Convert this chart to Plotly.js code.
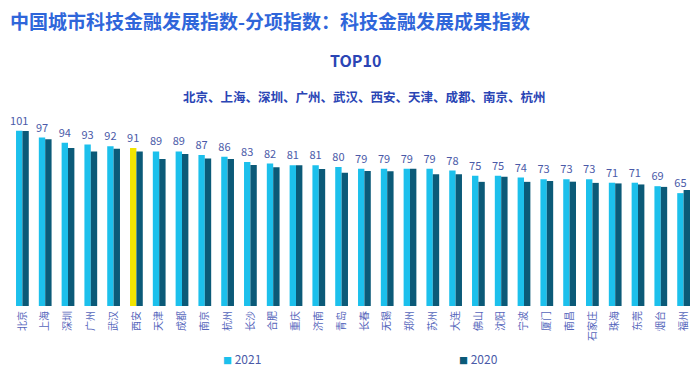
<!DOCTYPE html>
<html>
<head>
<meta charset="utf-8">
<script src="https://cdn.plot.ly/plotly-3.0.1.min.js"></script>
<style>html,body{margin:0;padding:0;background:#fff;}#chart{width:700px;height:370px;}</style>
</head>
<body>
<div id="chart"></div>
<script>
const cities = ["北京","上海","深圳","广州","武汉","西安","天津","成都","南京","杭州","长沙","合肥","重庆","济南","青岛","长春","无锡","郑州","苏州","大连","佛山","沈阳","宁波","厦门","南昌","石家庄","珠海","东莞","烟台","福州"];
const v2021 = [101,97,94,93,92,91,89,89,87,86,83,82,81,81,80,79,79,79,79,78,75,75,74,73,73,73,71,71,69,65];
const v2020 = [100.8,96,91,89,90.6,89,84.7,87.6,85,84.6,81.2,79.9,81,78.9,76.7,77.8,77.6,79,75.9,75.9,71.5,74.4,71.5,72,71.6,70.9,70.6,70,68.6,66.8];
const highlightCity = "西安";

const C21 = "#1cc0ec", C20 = "#0b5a78", CHL = "#f2e500";
const txt = "#4a5aa8";
const cjk = "'Noto Sans CJK SC', 'Noto Sans', sans-serif";

const trace21 = {
  type: "bar", name: "2021", x: cities, y: v2021,
  marker: {color: cities.map(c => c === highlightCity ? CHL : C21)},
  text: v2021.map(String), textposition: "outside", cliponaxis: false, constraintext: "none",
  textfont: {family: cjk, size: 11, color: txt},
  hoverinfo: "x+y", showlegend: false
};
const trace20 = {
  type: "bar", name: "2020", x: cities, y: v2020,
  marker: {color: C20}, hoverinfo: "x+y", showlegend: false
};

const layout = {
  width: 700, height: 370,
  margin: {l: 11, r: 5, t: 115, b: 64},
  paper_bgcolor: "#fff", plot_bgcolor: "#fff",
  barmode: "group", bargap: 0.44, bargroupgap: 0,
  font: {family: cjk, color: txt},
  xaxis: {
    type: "category", range: [-0.5, 29.5], tickangle: -90,
    tickfont: {family: cjk, size: 10, color: "#5566bb"},
    showgrid: false, zeroline: false, showline: false, ticks: "", ticklabelstandoff: 2
  },
  yaxis: {range: [0, 110], visible: false, showgrid: false, zeroline: false},
  annotations: [
    {xref: "paper", yref: "paper", x: -0.004, y: 1.0, xanchor: "left", yanchor: "middle",
     text: "<b>中国城市科技金融发展指数-分项指数：科技金融发展成果指数</b>", showarrow: false,
     font: {family: cjk, size: 19, color: "#2f66da"}, yshift: 95},
    {xref: "paper", yref: "paper", x: 0.503, y: 1.0, xanchor: "center", yanchor: "middle",
     text: "<b>TOP10</b>", showarrow: false,
     font: {family: cjk, size: 16, color: "#2a45b5"}, yshift: 55},
    {xref: "paper", yref: "paper", x: 0.517, y: 1.0, xanchor: "center", yanchor: "middle",
     text: "<b>" + cities.slice(0, 10).join("、") + "</b>", showarrow: false,
     font: {family: cjk, size: 12.5, color: "#2a45b5"}, yshift: 19},
    {xref: "paper", yref: "paper", x: (221 - 11) / 684, y: 0, xanchor: "left", yanchor: "middle",
     text: "<span style='color:" + C21 + ";font-size:9px'>■</span> 2021", showarrow: false,
     font: {family: cjk, size: 12, color: txt}, yshift: -52},
    {xref: "paper", yref: "paper", x: (457 - 11) / 684, y: 0, xanchor: "left", yanchor: "middle",
     text: "<span style='color:" + C20 + ";font-size:9px'>■</span> 2020", showarrow: false,
     font: {family: cjk, size: 12, color: txt}, yshift: -52}
  ]
};

Plotly.newPlot("chart", [trace21, trace20], layout, {displayModeBar: false, staticPlot: true});
</script>
</body>
</html>
